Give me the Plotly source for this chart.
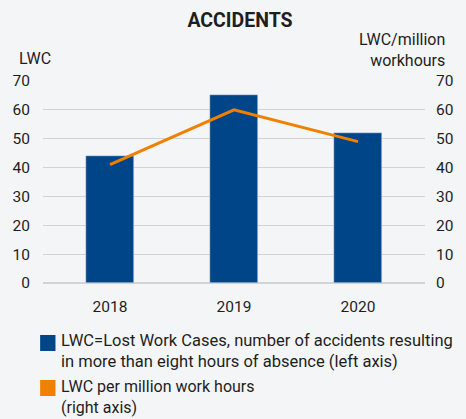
import plotly.graph_objects as go

years = ["2018", "2019", "2020"]
lwc = [44, 65, 52]
lwc_per_million = [41, 60, 49]
y_ticks = [0, 10, 20, 30, 40, 50, 60, 70]

BG = "#f4f5f7"
BLUE = "#004587"
ORANGE = "#f08000"
GRID = "#d0d3d8"
TXT = "#1e1e1e"
FONT = "Roboto"

fig = go.Figure()
fig.add_trace(go.Bar(x=years, y=lwc, marker_color=BLUE, width=0.386,
                     yaxis="y", showlegend=False, hoverinfo="skip"))
fig.add_trace(go.Scatter(x=years, y=lwc_per_million, mode="lines",
                         line=dict(color=ORANGE, width=3), yaxis="y2",
                         showlegend=False, hoverinfo="skip"))

fig.update_layout(
    width=466, height=419,
    margin=dict(l=42, r=26, t=81, b=136),
    paper_bgcolor=BG, plot_bgcolor=BG,
    font=dict(family=FONT, size=15, color=TXT),
    title=dict(text="<b>ACCIDENTS</b>", x=0.515, xanchor="center",
               y=0.952, yanchor="middle", font=dict(size=19.5, color=TXT)),
    xaxis=dict(range=[-0.54, 2.54], showgrid=False, showline=False,
               ticks="outside", ticklen=9, tickcolor="rgba(0,0,0,0)",
               tickfont=dict(size=15.5)),
    yaxis=dict(range=[0, 70], tickvals=y_ticks, showgrid=True,
               gridcolor=GRID, gridwidth=1, zeroline=True, zerolinecolor=GRID,
               ticks="outside", ticklen=9, tickcolor="rgba(0,0,0,0)",
               tickfont=dict(size=15.5)),
    yaxis2=dict(range=[0, 70], tickvals=y_ticks, overlaying="y", side="right",
                showgrid=False, zeroline=False, ticks="outside", ticklen=7,
                tickcolor="rgba(0,0,0,0)", tickfont=dict(size=15.5)),
    bargap=0,
)

# axis titles
fig.add_annotation(text="LWC", xref="paper", yref="paper", x=-0.068, y=1.112,
                   xanchor="left", yanchor="middle", showarrow=False,
                   font=dict(size=16))
fig.add_annotation(text="LWC/million<br>workhours", xref="paper", yref="paper",
                   x=1.058, y=1.155, xanchor="right", yanchor="middle",
                   align="right", showarrow=False, font=dict(size=16))

# legend (drawn manually: square + wrapped text)
fig.add_shape(type="rect", xref="paper", yref="paper",
              x0=(39 - 42) / 398, x1=(55 - 42) / 398,
              y0=(283 - 351) / 202, y1=(283 - 335) / 202,
              fillcolor=BLUE, line=dict(width=0))
fig.add_annotation(text="LWC=Lost Work Cases, number of accidents resulting<br>in more than eight hours of absence (left axis)",
                   xref="paper", yref="paper",
                   x=(60 - 42) / 398, y=(283 - 330) / 202,
                   xanchor="left", yanchor="top", align="left",
                   borderpad=0, showarrow=False, font=dict(size=16.5))

fig.add_shape(type="rect", xref="paper", yref="paper",
              x0=(39 - 42) / 398, x1=(55 - 42) / 398,
              y0=(283 - 396) / 202, y1=(283 - 380) / 202,
              fillcolor=ORANGE, line=dict(width=0))
fig.add_annotation(text="LWC per million work hours<br>(right axis)",
                   xref="paper", yref="paper",
                   x=(60 - 42) / 398, y=(283 - 418) / 202,
                   xanchor="left", yanchor="bottom", align="left",
                   borderpad=0, showarrow=False, font=dict(size=16))

fig.write_html("out.html", config={"displayModeBar": False},
               post_script="document.body.style.margin='0';"
                           "document.body.style.background='" + BG + "';")
